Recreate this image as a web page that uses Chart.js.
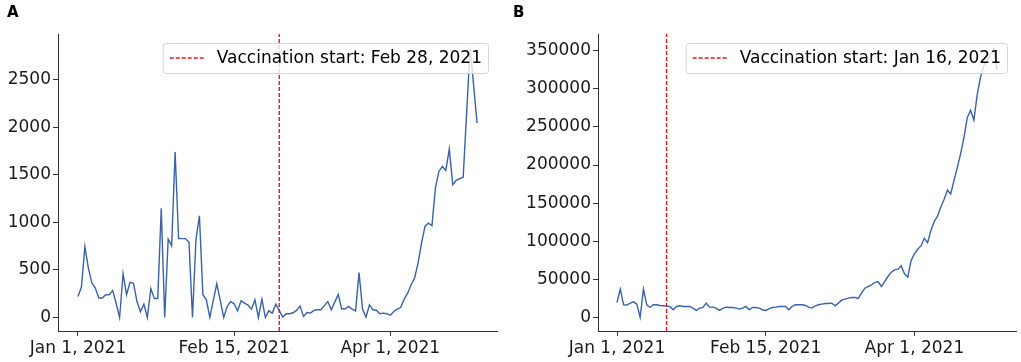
<!DOCTYPE html>
<html><head>
<meta charset="UTF-8">
<title>Vaccination start</title>
<script src="https://cdn.jsdelivr.net/npm/chart.js@4.4.7/dist/chart.umd.min.js"></script>
<style>
*{margin:0;padding:0;box-sizing:border-box}
html,body{width:1021px;height:362px;background:#fff;overflow:hidden;font-family:"DejaVu Sans",sans-serif}
.p{position:absolute;top:0;height:362px}
#pa{left:0;width:510px}
#pb{left:510px;width:511px}
.lb{position:absolute;top:5px;font:bold 15px/15px "DejaVu Sans",sans-serif;color:#000}
</style></head><body>
<div class="p" id="pa"><canvas id="ca"></canvas></div>
<div class="p" id="pb"><canvas id="cb"></canvas></div>
<div class="lb" style="left:7px">A</div>
<div class="lb" style="left:513px">B</div>
<script>
// x is days since Jan 1, 2021
var xTickDays = [0, 45, 90];
var xTickLabels = ['Jan 1, 2021', 'Feb 15, 2021', 'Apr 1, 2021'];

var casesA = [
  220, 320, 745, 520, 365, 310, 205, 205, 240, 240,
  285, 150, 0, 460, 240, 370, 360, 170, 60, 140,
  0, 305, 200, 200, 1150, 0, 825, 755, 1740, 830,
  830, 830, 790, 0, 820, 1070, 240, 186, 0, 180,
  355, 180, 0, 116, 168, 144, 70, 175, 151, 130,
  88, 186, 0, 193, 0, 70, 46, 140, 75, 5,
  39, 39, 50, 75, 120, 11, 53, 46, 75, 81,
  81, 125, 168, 81, 162, 242, 90, 92, 116, 88,
  70, 473, 88, 4, 133, 81, 77, 40, 46, 40,
  25, 63, 88, 105, 193, 256, 344, 414, 572, 782,
  958, 993, 965, 1361, 1536, 1589, 1547, 1772, 1396, 1442,
  1460, 1475, 2150, 2840, 2450, 2046
];
var casesB = [
  19600, 37100, 16600, 16300, 18800, 20500, 17500, 0, 37100, 16600,
  13100, 16600, 16600, 15700, 15300, 14800, 14400, 10100, 14400, 15300,
  14400, 14400, 14400, 12300, 9200, 12300, 13100, 18800, 13500, 13500,
  12300, 9200, 12000, 13500, 13100, 13100, 12300, 11000, 12300, 14400,
  10100, 13100, 13100, 12300, 10100, 9200, 11300, 13100, 13500, 14400,
  14400, 14400, 10100, 14400, 16600, 16600, 16600, 15700, 13500, 12300,
  15300, 16600, 17500, 18300, 18300, 18800, 15300, 18800, 22700, 24000,
  25300, 26200, 26200, 24900, 31900, 38400, 40600, 42800, 45800, 47100,
  40600, 47100, 53700, 59400, 62400, 63300, 67700, 57200, 52900, 74600,
  83400, 89500, 93800, 103900, 98200, 114000, 126000, 133000, 145000, 155000,
  167000, 162000, 180000, 197000, 215000, 236000, 262000, 272000, 259000, 292000,
  315000, 330000, 337000, 345000, 353000, 325000
];

var vaxDayA = 58, vaxLabelA = 'Vaccination start: Feb 28, 2021';
var vaxDayB = 15, vaxLabelB = 'Vaccination start: Jan 16, 2021';
var yTicksA = [0, 500, 1000, 1500, 2000, 2500];
var yTicksB = [0, 50000, 100000, 150000, 200000, 250000, 300000, 350000];

var FONT = {family: '"DejaVu Sans", sans-serif', size: 17};
var INK = '#1a1a1a';
var SPINE = '#333333';

// legend box in upper right, drawn over the lines like matplotlib's framealpha
var vaxLegend = {
  id: 'vaxLegend',
  afterDatasetsDraw: function(chart) {
    var ds = chart.data.datasets[0];
    var ctx = chart.ctx, a = chart.chartArea;
    ctx.save();
    ctx.font = FONT.size + 'px ' + FONT.family;
    var tw = ctx.measureText(ds.label).width;
    var w = 7 + 34 + 13 + tw + 6, h = 30;
    var x = a.right - 9 - w, y = a.top + 9;
    ctx.beginPath();
    ctx.roundRect(x + 0.5, y + 0.5, w, h, 3);
    ctx.fillStyle = 'rgba(255,255,255,0.8)';
    ctx.fill();
    ctx.strokeStyle = '#d6d6d6';
    ctx.lineWidth = 1;
    ctx.stroke();
    ctx.beginPath();
    ctx.setLineDash(ds.borderDash);
    ctx.strokeStyle = ds.borderColor;
    ctx.lineWidth = ds.borderWidth;
    ctx.moveTo(x + 7, y + h / 2);
    ctx.lineTo(x + 41, y + h / 2);
    ctx.stroke();
    ctx.setLineDash([]);
    ctx.fillStyle = '#000';
    ctx.textBaseline = 'middle';
    ctx.fillText(ds.label, x + 54, y + h / 2 + 1);
    ctx.restore();
  }
};

function makeChart(id, cases, vaxDay, vaxLabel, yTicks, yMin, yMax, yAxisW, padRight) {
  var pts = cases.map(function(v, i) { return {x: i, y: v}; });
  return new Chart(document.getElementById(id), {
    type: 'line',
    data: {datasets: [
      {label: vaxLabel, data: [{x: vaxDay, y: yMin}, {x: vaxDay, y: yMax}],
        borderColor: '#e0191e', borderDash: [4, 2], borderWidth: 1.4, pointRadius: 0},
      {label: 'cases', data: pts, borderColor: '#3a62a8', borderWidth: 1.4,
        pointRadius: 0, tension: 0}
    ]},
    options: {
      responsive: true, maintainAspectRatio: false, animation: false, devicePixelRatio: 1,
      layout: {padding: {left: 0, right: padRight, top: 34, bottom: 0}},
      plugins: {legend: {display: false}, tooltip: {enabled: false}},
      scales: {
        x: {
          type: 'linear', min: -5.75, max: 120.75,
          afterBuildTicks: function(s) { s.ticks = xTickDays.map(function(v) { return {value: v}; }); },
          afterFit: function(s) { s.height = 31; },
          ticks: {font: FONT, color: INK, padding: 2, maxRotation: 0, autoSkip: false,
            callback: function(v) { return xTickLabels[xTickDays.indexOf(v)]; }},
          grid: {drawOnChartArea: false, drawTicks: true, tickLength: 5, color: SPINE},
          border: {color: SPINE, width: 1}
        },
        y: {
          min: yMin, max: yMax,
          afterBuildTicks: function(s) { s.ticks = yTicks.map(function(v) { return {value: v}; }); },
          afterFit: function(s) { s.width = yAxisW; },
          ticks: {font: FONT, color: INK, padding: 2,
            callback: function(v) { return String(v); }},
          grid: {drawOnChartArea: false, drawTicks: true, tickLength: 5, color: SPINE},
          border: {color: SPINE, width: 1}
        }
      }
    },
    plugins: [vaxLegend]
  });
}

makeChart('ca', casesA, vaxDayA, vaxLabelA, yTicksA, -142, 2982, 58, 13);
makeChart('cb', casesB, vaxDayB, vaxLabelB, yTicksB, -17800, 372000, 88, 5);
</script>
</body></html>
